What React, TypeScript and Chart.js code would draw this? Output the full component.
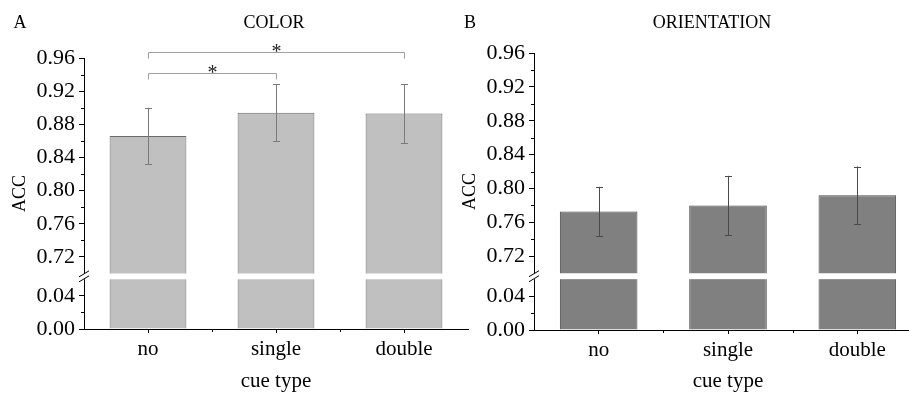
import React, { useEffect, useRef } from 'react';
import { Chart, registerables } from 'chart.js';

Chart.register(...registerables);

// ---------- data ----------
const CATEGORIES = ['no', 'single', 'double'];

const COLOR_MEANS = [0.866, 0.894, 0.893];
const COLOR_ERRORS = [0.034, 0.0345, 0.0355];

const ORIENT_MEANS = [0.773, 0.78, 0.792];
const ORIENT_ERRORS = [0.029, 0.035, 0.034];

const Y_MAJOR_TICKS = [0, 0.04, 0.72, 0.76, 0.8, 0.84, 0.88, 0.92, 0.96];
const Y_MINOR_TICKS = [0.02, 0.74, 0.78, 0.82, 0.86, 0.9, 0.94];

const BREAK_LOW = 0.06;
const BREAK_HIGH = 0.7;
const BREAK_GAP = 0.007;
const Y_TOP = 0.96;

const COLOR_SIG_PAIRS = [
  [0, 1],
  [0, 2],
];
const COLOR_SIG_LEVELS = [0.942, 0.967];
const COLOR_SIG_LABELS = ['*', '*'];

// ---------- helpers ----------
const FONT = '"Liberation Serif", "Times New Roman", serif';

function toAxis(v: number): number {
  return v <= BREAK_LOW ? v : v - BREAK_HIGH + BREAK_LOW + BREAK_GAP;
}
function fromAxis(a: number): number {
  return a <= BREAK_LOW + 1e-9 ? a : a + BREAK_HIGH - BREAK_LOW - BREAK_GAP;
}

type PanelProps = {
  letter: string;
  title: string;
  titleX: number;
  means: number[];
  errors: number[];
  fill: string;
  border: string;
  errColor: string;
  padTop: number;
  xAxisHeight: number;
  padRight: number;
  left: number;
  width: number;
  sigPairs?: number[][];
  sigLevels?: number[];
  sigLabels?: string[];
};

function Panel(props: PanelProps) {
  const ref = useRef<HTMLCanvasElement | null>(null);

  useEffect(() => {
    const canvas = ref.current;
    if (!canvas) return;

    const extras = {
      id: 'panelExtras',
      afterDatasetsDraw(chart: any) {
        const { ctx, chartArea } = chart;
        const xs = chart.scales.x;
        const ys = chart.scales.y;
        ctx.save();
        // error bars
        ctx.strokeStyle = props.errColor;
        ctx.lineWidth = 1;
        props.means.forEach((m, i) => {
          const x = Math.round(xs.getPixelForValue(i)) + 0.5;
          const yt = ys.getPixelForValue(toAxis(m + props.errors[i]));
          const yb = ys.getPixelForValue(toAxis(m - props.errors[i]));
          ctx.beginPath();
          ctx.moveTo(x, yt);
          ctx.lineTo(x, yb);
          ctx.moveTo(x - 3.5, Math.round(yt) + 0.5);
          ctx.lineTo(x + 3.5, Math.round(yt) + 0.5);
          ctx.moveTo(x - 3.5, Math.round(yb) + 0.5);
          ctx.lineTo(x + 3.5, Math.round(yb) + 0.5);
          ctx.stroke();
        });
        // axis break band
        const yHi = ys.getPixelForValue(toAxis(BREAK_HIGH));
        const yLo = ys.getPixelForValue(BREAK_LOW);
        ctx.fillStyle = '#ffffff';
        ctx.fillRect(chartArea.left - 1, yHi, chartArea.right - chartArea.left + 2, yLo - yHi);
        // slashes on axis
        const cy = (yHi + yLo) / 2;
        ctx.strokeStyle = '#000000';
        ctx.lineWidth = 1;
        ctx.beginPath();
        [-2.5, 2.5].forEach((d) => {
          ctx.moveTo(chartArea.left - 5, cy + d + 3);
          ctx.lineTo(chartArea.left + 5, cy + d - 3);
        });
        ctx.stroke();
        ctx.restore();
      },
      afterDraw(chart: any) {
        const { ctx, chartArea } = chart;
        const xs = chart.scales.x;
        const ys = chart.scales.y;
        ctx.save();
        // minor ticks
        ctx.strokeStyle = '#000000';
        ctx.lineWidth = 1;
        ctx.beginPath();
        Y_MINOR_TICKS.forEach((v) => {
          const y = Math.round(ys.getPixelForValue(toAxis(v))) + 0.5;
          ctx.moveTo(chartArea.left - 3, y);
          ctx.lineTo(chartArea.left, y);
        });
        for (let i = 0; i < CATEGORIES.length - 1; i++) {
          const x = Math.round((xs.getPixelForValue(i) + xs.getPixelForValue(i + 1)) / 2) + 0.5;
          ctx.moveTo(x, chartArea.bottom);
          ctx.lineTo(x, chartArea.bottom + 3);
        }
        ctx.stroke();
        // titles
        ctx.fillStyle = '#000000';
        ctx.font = `18px ${FONT}`;
        ctx.textBaseline = 'middle';
        ctx.textAlign = 'center';
        ctx.fillText(props.letter, 20, 23);
        ctx.fillText(props.title, props.titleX, 23);
        // significance brackets
        if (props.sigPairs && props.sigLevels && props.sigLabels) {
          props.sigPairs.forEach((pair, k) => {
            const x1 = Math.round(xs.getPixelForValue(pair[0])) + 0.5;
            const x2 = Math.round(xs.getPixelForValue(pair[1])) + 0.5;
            const y = Math.round(ys.getPixelForValue(toAxis(props.sigLevels![k]))) + 0.5;
            ctx.strokeStyle = '#a0a0a0';
            ctx.beginPath();
            ctx.moveTo(x1, y + 6);
            ctx.lineTo(x1, y);
            ctx.lineTo(x2, y);
            ctx.lineTo(x2, y + 6);
            ctx.stroke();
            ctx.font = `20px ${FONT}`;
            ctx.fillStyle = '#222222';
            ctx.textBaseline = 'alphabetic';
            const mt = ctx.measureText(props.sigLabels![k]);
            const cyStar = y - 5;
            const base = cyStar + (mt.actualBoundingBoxAscent - mt.actualBoundingBoxDescent) / 2;
            ctx.fillText(props.sigLabels![k], (x1 + x2) / 2, base);
          });
        }
        ctx.restore();
      },
    };

    const chart = new Chart(canvas, {
      type: 'bar',
      data: {
        labels: CATEGORIES,
        datasets: [
          {
            data: props.means.map(toAxis),
            backgroundColor: props.fill,
            borderColor: props.border,
            borderWidth: 1,
            barPercentage: 0.6,
            categoryPercentage: 1,
          },
        ],
      },
      options: {
        animation: false,
        responsive: false,
        devicePixelRatio: 1,
        layout: { padding: { top: props.padTop, right: props.padRight, left: 0, bottom: 0 } },
        plugins: {
          legend: { display: false },
          tooltip: { enabled: false },
          title: { display: false },
        },
        scales: {
          x: {
            type: 'category',
            offset: true,
            grid: {
              offset: false,
              drawOnChartArea: false,
              drawTicks: true,
              tickLength: 4,
              color: '#000000',
            },
            border: { display: true, color: '#000000', width: 1 },
            ticks: {
              color: '#000000',
              font: { family: FONT, size: 21 },
              padding: 4,
              maxRotation: 0,
            },
            title: {
              display: true,
              text: 'cue type',
              color: '#000000',
              font: { family: FONT, size: 21 },
              padding: { top: 0, bottom: 0 },
            },
            afterFit: (scale: any) => {
              scale.height = props.xAxisHeight;
            },
          },
          y: {
            type: 'linear',
            min: 0,
            max: toAxis(Y_TOP),
            afterBuildTicks: (scale: any) => {
              scale.ticks = Y_MAJOR_TICKS.map((v) => ({ value: toAxis(v) }));
            },
            grid: {
              drawOnChartArea: false,
              drawTicks: true,
              tickLength: 5,
              color: '#000000',
            },
            border: { display: true, color: '#000000', width: 1 },
            ticks: {
              color: '#000000',
              font: { family: FONT, size: 22 },
              padding: 4,
              callback: (value: any) => fromAxis(Number(value)).toFixed(2),
            },
            title: {
              display: true,
              text: 'ACC',
              color: '#000000',
              font: { family: FONT, size: 18 },
              padding: { top: 9, bottom: 0 },
            },
            afterFit: (scale: any) => {
              scale.width = 84;
            },
          },
        },
      } as any,
      plugins: [extras as any],
    });

    return () => chart.destroy();
  }, []);

  return (
    <canvas
      ref={ref}
      width={props.width}
      height={394}
      style={{ position: 'absolute', left: props.left, top: 0, width: props.width, height: 394 }}
    />
  );
}

export default function App() {
  return (
    <div
      style={{
        position: 'fixed',
        left: 0,
        top: 0,
        width: 909,
        height: 394,
        overflow: 'hidden',
        background: '#ffffff',
      }}
    >
      <Panel
        letter="A"
        title="COLOR"
        titleX={274}
        means={COLOR_MEANS}
        errors={COLOR_ERRORS}
        fill="#c0c0c0"
        border="#6a6a6a"
        errColor="#7a7a7a"
        padTop={58}
        xAxisHeight={65}
        padRight={2}
        left={0}
        width={470}
        sigPairs={COLOR_SIG_PAIRS}
        sigLevels={COLOR_SIG_LEVELS}
        sigLabels={COLOR_SIG_LABELS}
      />
      <Panel
        letter="B"
        title="ORIENTATION"
        titleX={262}
        means={ORIENT_MEANS}
        errors={ORIENT_ERRORS}
        fill="#808080"
        border="#4a4a4a"
        errColor="#4a4a4a"
        padTop={53}
        xAxisHeight={64}
        padRight={0}
        left={450}
        width={472}
      />
    </div>
  );
}
